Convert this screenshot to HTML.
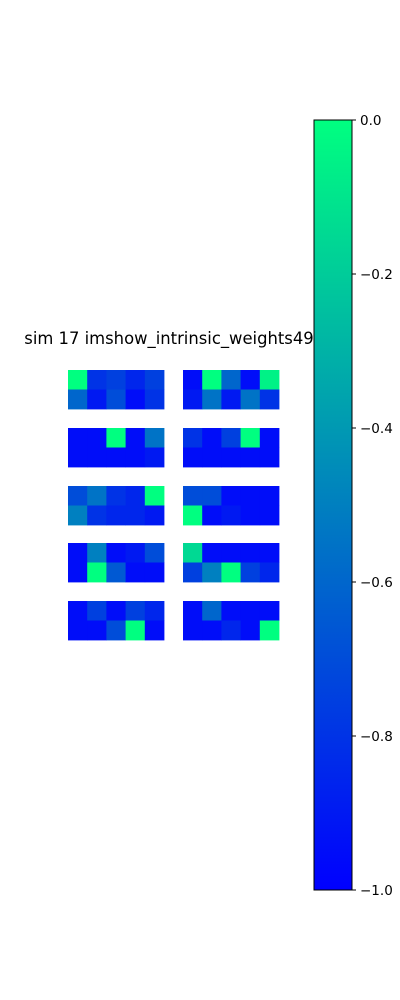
<!DOCTYPE html>
<html><head><meta charset="utf-8"><style>
html,body{margin:0;padding:0;background:#fff;}
svg{display:block;font-family:"DejaVu Sans","Liberation Sans",sans-serif;}
</style></head><body>
<svg id="chart" width="400" height="1000" xmlns="http://www.w3.org/2000/svg">
<rect width="400" height="1000" fill="#fff"/>
<text x="169" y="344" font-size="16.4" text-anchor="middle" fill="#000">sim 17 imshow_intrinsic_weights49</text>
<g id="maps"></g>
<defs><linearGradient id="cg" x1="0" y1="1" x2="0" y2="0">
<stop offset="0" stop-color="rgb(0,0,255)"/><stop offset="1" stop-color="rgb(0,255,128)"/></linearGradient></defs>
<rect x="314" y="120" width="38" height="770" fill="url(#cg)" stroke="#000" stroke-width="1"/>
<g id="cbticks"></g>
</svg>
<script>
const mapValues = [
 [[0,-0.8,-0.75,-0.85,-0.75],[-0.6,-0.9,-0.7,-0.95,-0.8]],
 [[-0.95,0,-0.6,-0.95,-0.05],[-0.9,-0.55,-0.9,-0.55,-0.8]],
 [[-0.95,-0.95,0,-0.95,-0.55],[-0.95,-0.95,-0.95,-0.95,-0.9]],
 [[-0.8,-0.95,-0.75,0,-0.95],[-0.95,-0.95,-0.95,-0.95,-0.95]],
 [[-0.7,-0.55,-0.8,-0.85,0],[-0.5,-0.8,-0.85,-0.85,-0.9]],
 [[-0.7,-0.7,-0.95,-0.95,-0.95],[0,-0.95,-0.9,-0.95,-0.95]],
 [[-0.95,-0.5,-0.95,-0.9,-0.7],[-0.95,0,-0.65,-0.95,-0.95]],
 [[-0.15,-0.95,-0.95,-0.95,-0.95],[-0.75,-0.5,0,-0.75,-0.85]],
 [[-0.95,-0.75,-0.95,-0.75,-0.85],[-0.95,-0.95,-0.7,0,-0.95]],
 [[-0.95,-0.6,-0.95,-0.95,-0.95],[-0.95,-0.95,-0.85,-0.95,0]]
];
const tickValues = [0,-0.2,-0.4,-0.6,-0.8,-1.0];
const tickLabels = ["0.0","\u22120.2","\u22120.4","\u22120.6","\u22120.8","\u22121.0"];
const NS="http://www.w3.org/2000/svg";
function color(v){const t=Math.max(0,Math.min(1,v+1));return `rgb(0,${Math.round(255*t)},${Math.round(255-127*t)})`;}
function cbY(v){return 120+(0-v)/1*770;}
const mapsG=document.getElementById('maps');
const colX=[68,183], rowY=[370,428,486,543,601], cw=19.2, ch=19.5;
mapValues.forEach((m,i)=>{
 const g=document.createElementNS(NS,'g');
 
 
 const x0=colX[i%2], y0=rowY[Math.floor(i/2)];
 m.forEach((row,r)=>row.forEach((v,c)=>{
  const rc=document.createElementNS(NS,'rect');
  
  
  rc.setAttribute('x',x0+c*cw);rc.setAttribute('y',y0+r*ch);
  rc.setAttribute('width',cw+0.4);rc.setAttribute('height',ch+0.4);
  rc.setAttribute('fill',color(v));
  g.appendChild(rc);
 }));
 mapsG.appendChild(g);
});
const tg=document.getElementById('cbticks');
tickValues.forEach((v,i)=>{
 const y=cbY(v);
 const l=document.createElementNS(NS,'line');
 
 
 l.setAttribute('x1',352);l.setAttribute('x2',356);l.setAttribute('y1',y);l.setAttribute('y2',y);
 l.setAttribute('stroke','#000');
 tg.appendChild(l);
 const t=document.createElementNS(NS,'text');
 
 
 t.setAttribute('x',360);t.setAttribute('y',y+5);t.setAttribute('font-size','13.5');
 t.textContent=tickLabels[i];
 tg.appendChild(t);
});
</script>
</body></html>
